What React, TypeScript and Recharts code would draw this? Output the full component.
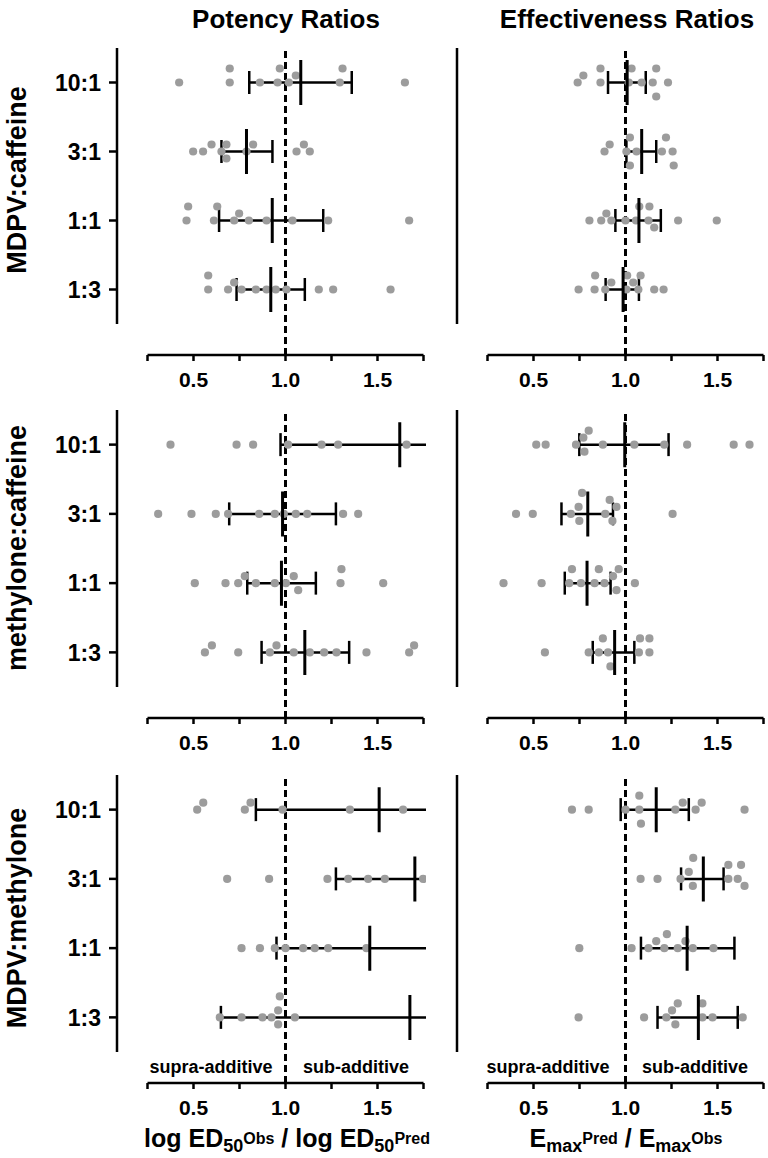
import React from 'react';
import { ScatterChart, Scatter, XAxis, YAxis, ErrorBar, ReferenceLine } from 'recharts';

const FONT = '"Liberation Sans", Arial, Helvetica, sans-serif';

// category order on the y axis, bottom to top
const RATIO_LABELS = ['1:3', '1:1', '3:1', '10:1'];
const ROW_LABELS = ['MDPV:caffeine', 'methylone:caffeine', 'MDPV:methylone'];
const COLUMN_TITLES = ['Potency Ratios', 'Effectiveness Ratios'];
const X_TICKS = [0.25, 0.5, 0.75, 1, 1.25, 1.5, 1.75];
const X_TICK_LABELS = [0.5, 1, 1.5];
const Y_TICKS = [1, 2, 3, 4];

// ---- MDPV:caffeine ----
const POT_MDPV_CAF: number[][] = [
  [0.58, 0.58, 0.688, 0.761, 0.721, 0.839, 0.897, 0.947, 1.005, 1.181, 1.259, 1.571],
  [0.471, 0.611, 0.748, 0.462, 0.629, 0.721, 0.801, 0.897, 1.038, 1.232, 1.672],
  [0.598, 0.552, 0.679, 0.788, 0.498, 0.652, 0.824, 0.679, 1.132, 1.06, 1.1],
  [0.422, 0.697, 0.697, 0.861, 0.957, 0.969, 1.018, 1.056, 1.295, 1.31, 1.649],
];
// [mean, lower CI, upper CI]
const POT_MDPV_CAF_CI: number[][] = [
  [0.92, 0.734, 1.105],
  [0.928, 0.639, 1.205],
  [0.788, 0.652, 0.929],
  [1.083, 0.803, 1.36],
];
const EFF_MDPV_CAF: number[][] = [
  [0.89, 1.005, 1.082, 1.207, 0.745, 0.832, 0.923, 1.042, 1.156, 0.835, 1.009, 1.07],
  [0.896, 1.057, 1.156, 0.868, 0.804, 0.923, 1.0, 1.125, 1.286, 1.496, 1.075, 1.13],
  [1.06, 1.198, 0.914, 1.024, 1.256, 0.886, 1.262, 1.024, 1.22, 1.005],
  [0.771, 0.864, 0.864, 0.74, 1.018, 1.088, 1.167, 1.167, 1.231, 1.148, 1.033],
];
const EFF_MDPV_CAF_CI: number[][] = [
  [0.987, 0.892, 1.073],
  [1.073, 0.945, 1.192],
  [1.088, 1.005, 1.167],
  [1.009, 0.905, 1.11],
];

// ---- methylone:caffeine ----
const POT_METH_CAF: number[][] = [
  [0.6, 0.562, 0.743, 0.915, 0.951, 1.045, 1.132, 1.21, 1.277, 1.44, 1.672, 1.699],
  [0.507, 0.674, 0.839, 0.942, 1.069, 1.299, 0.743, 0.779, 1.002, 1.045, 1.304, 1.531],
  [0.308, 0.489, 0.621, 0.688, 0.857, 0.942, 0.991, 1.056, 1.118, 1.313, 1.395],
  [0.375, 0.734, 0.824, 1.014, 1.196, 1.286, 1.658],
];
const POT_METH_CAF_CI: number[][] = [
  [1.105, 0.87, 1.346],
  [0.978, 0.792, 1.165],
  [0.984, 0.694, 1.274],
  [1.621, 0.973, 2.27],
];
const EFF_METH_CAF: number[][] = [
  [1.13, 1.13, 0.905, 0.8, 1.079, 0.562, 0.877, 1.073, 0.855, 0.918],
  [0.951, 0.709, 0.886, 0.337, 0.544, 0.694, 0.832, 0.932, 1.051, 0.758, 0.855, 0.963],
  [0.749, 0.929, 0.703, 0.89, 0.405, 0.496, 0.914, 0.745, 0.764, 0.951, 1.256],
  [0.771, 0.566, 0.731, 0.515, 0.777, 0.8, 0.877, 1.048, 1.211, 1.335, 1.588, 1.674],
];
const EFF_METH_CAF_CI: number[][] = [
  [0.941, 0.822, 1.048],
  [0.791, 0.67, 0.919],
  [0.795, 0.652, 0.932],
  [0.996, 0.749, 1.234],
];

// ---- MDPV:methylone ----
const POT_MDPV_METH: number[][] = [
  [0.969, 0.924, 0.643, 0.761, 0.96, 1.051, 0.875, 0.96],
  [0.761, 0.861, 0.942, 1.0, 1.096, 1.159, 1.232, 1.44],
  [0.683, 0.911, 1.228, 1.341, 1.449, 1.54, 1.748],
  [0.553, 0.52, 0.779, 0.81, 0.984, 1.35, 1.639],
];
const POT_MDPV_METH_CI: number[][] = [
  [1.676, 0.649, 2.7],
  [1.458, 0.951, 1.965],
  [1.703, 1.274, 2.13],
  [1.509, 0.839, 2.18],
];
const EFF_MDPV_METH: number[][] = [
  [1.284, 1.473, 1.253, 0.745, 1.101, 1.418, 1.418, 1.637, 1.222, 1.271],
  [1.284, 1.167, 1.366, 0.749, 1.033, 1.211, 1.478, 1.125, 1.326, 1.225],
  [1.368, 1.628, 1.344, 1.559, 1.559, 1.082, 1.174, 1.647, 1.299, 1.366, 1.61],
  [1.075, 1.075, 1.381, 1.311, 0.709, 0.8, 1.0, 1.084, 1.647, 1.271, 1.414],
];
const EFF_MDPV_METH_CI: number[][] = [
  [1.396, 1.174, 1.61],
  [1.335, 1.084, 1.592],
  [1.423, 1.302, 1.533],
  [1.167, 0.974, 1.344],
];

const PANELS = [
  [[POT_MDPV_CAF, POT_MDPV_CAF_CI], [EFF_MDPV_CAF, EFF_MDPV_CAF_CI]],
  [[POT_METH_CAF, POT_METH_CAF_CI], [EFF_METH_CAF, EFF_METH_CAF_CI]],
  [[POT_MDPV_METH, POT_MDPV_METH_CI], [EFF_MDPV_METH, EFF_MDPV_METH_CI]],
];

// ---- layout ----
const PLOT_W = 306.5;
const MARGIN_R = 2;
const Y_AXIS_W = 117;
const CHART_W = Y_AXIS_W + PLOT_W + MARGIN_R;
const COLS = [
  { chartLeft: 0, showLabels: true },
  { chartLeft: 340, showLabels: false },
];
const ROWS = [
  { plotTop: 48, plotH: 307, labelY: 180 },
  { plotTop: 410, plotH: 308, labelY: 548 },
  { plotTop: 775, plotH: 308, labelY: 918 },
];
const GAP_X = 30.5;
const GAP_Y = 31;
const TOP_M = 10;
const X_AXIS_H = 45;
const DOT_R = 4.1;
const DOT_COLOR = '#9c9c9c';

// deterministic beeswarm placement around a category centre
function swarm(values: number[], pxX: number, pxY: number, center: number) {
  const sorted = [...values].sort((a, b) => a - b);
  const placed: { x: number; y: number }[] = [];
  const out: { x: number; y: number }[] = [];
  const STEP = 7;
  const D = 8.5;
  const cands = [0, -STEP, STEP, -2 * STEP, 2 * STEP, -3 * STEP, 3 * STEP, -4 * STEP, 4 * STEP];
  for (const v of sorted) {
    const px = v * pxX;
    let chosen = 0;
    for (const c of cands) {
      if (placed.every((p) => Math.hypot(p.x - px, p.y - c) >= D)) {
        chosen = c;
        break;
      }
    }
    placed.push({ x: px, y: chosen });
    out.push({ x: v, y: center - chosen / pxY });
  }
  return out;
}

const Dot = (props: any) => {
  const { cx, cy } = props;
  if (cx == null || cy == null) return <g />;
  return <circle cx={cx} cy={cy} r={DOT_R} fill={DOT_COLOR} />;
};

const MeanMark = (props: any) => {
  const { cx, cy } = props;
  if (cx == null || cy == null) return <g />;
  return <line x1={cx} x2={cx} y1={cy - 22.5} y2={cy + 22.5} stroke="#000" strokeWidth={3} />;
};

const fmtX = (v: number) => (X_TICK_LABELS.includes(v) ? v.toFixed(1) : '');
const fmtY = (v: number) => RATIO_LABELS[v - 1] ?? '';

function Panel({ row, col, pts, ci }: { row: number; col: number; pts: number[][]; ci: number[][] }) {
  const R = ROWS[row];
  const C = COLS[col];
  const pxX = (PLOT_W - GAP_X) / 1.5;
  const xMin = 0.25 - GAP_X / pxX;
  const pxY = (R.plotH - GAP_Y) / 4;
  const yMin = 0.5 - GAP_Y / pxY;
  const dots = pts.flatMap((vals, i) => swarm(vals, pxX, pxY, i + 1));
  const means = ci.map(([m, lo, hi], i) => ({ x: m, y: i + 1, err: [m - lo, hi - m] }));
  const tickStyle = { fontSize: 21, fontWeight: 700, fill: '#000', fontFamily: FONT };
  const yTickStyle = { fontSize: 23, fontWeight: 700, fill: '#000', fontFamily: FONT };
  return (
    <div style={{ position: 'absolute', left: C.chartLeft, top: R.plotTop - TOP_M }}>
      <ScatterChart
        width={CHART_W}
        height={TOP_M + R.plotH + X_AXIS_H}
        margin={{ top: TOP_M, right: MARGIN_R, bottom: 0, left: 0 }}
      >
        <XAxis
          xAxisId="m"
          type="number"
          dataKey="x"
          domain={[xMin, 1.75]}
          allowDataOverflow
          hide
          orientation="top"
          height={0}
        />
        <XAxis
          xAxisId="p"
          type="number"
          dataKey="x"
          domain={[xMin, 1.75]}
          ticks={X_TICKS}
          interval={0}
          axisLine={false}
          tickLine={{ stroke: '#000', strokeWidth: 2.5 }}
          tickSize={6}
          tickMargin={11}
          height={X_AXIS_H}
          tick={tickStyle}
          tickFormatter={fmtX}
        />
        <YAxis
          type="number"
          dataKey="y"
          domain={[yMin, 4.5]}
          ticks={Y_TICKS}
          interval={0}
          width={Y_AXIS_W}
          axisLine={false}
          tickLine={{ stroke: '#000', strokeWidth: 2.5 }}
          tickSize={8}
          tickMargin={8}
          tick={C.showLabels ? yTickStyle : false}
          tickFormatter={fmtY}
        />
        <ReferenceLine
          xAxisId="p"
          segment={[{ x: xMin, y: 0.5 }, { x: xMin, y: 4.5 }]}
          stroke="#000"
          strokeWidth={2.5}
          ifOverflow="visible"
        />
        <ReferenceLine
          xAxisId="p"
          segment={[{ x: 0.25, y: yMin }, { x: 1.75, y: yMin }]}
          stroke="#000"
          strokeWidth={2.5}
          ifOverflow="visible"
        />
        <Scatter xAxisId="p" data={dots} shape={Dot} isAnimationActive={false} />
        <ReferenceLine xAxisId="p" x={1} stroke="#000" strokeWidth={3} strokeDasharray="7 4" />
        <Scatter xAxisId="m" data={means} shape={MeanMark} isAnimationActive={false}>
          <ErrorBar
            dataKey="err"
            direction="x"
            width={11.5}
            stroke="#000"
            strokeWidth={2.5}
            isAnimationActive={false}
          />
        </Scatter>
      </ScatterChart>
    </div>
  );
}

const textBase: React.CSSProperties = {
  position: 'absolute',
  fontFamily: FONT,
  fontWeight: 700,
  color: '#000',
  textAlign: 'center',
  whiteSpace: 'nowrap',
};

function Centered({ cx, cy, size, children, w = 400 }: { cx: number; cy: number; size: number; children: React.ReactNode; w?: number }) {
  return (
    <div style={{ ...textBase, left: cx - w / 2, top: cy - 20, width: w, height: 40, lineHeight: '40px', fontSize: size }}>
      {children}
    </div>
  );
}

const subStyle: React.CSSProperties = { fontSize: 18, verticalAlign: '-5px', lineHeight: 0 };
const supStyle: React.CSSProperties = { fontSize: 16, verticalAlign: '3px', lineHeight: 0 };

export default function App() {
  return (
    <div style={{ position: 'absolute', left: 0, top: 0, width: 768, height: 1158, background: '#fff', overflow: 'hidden' }}>
      {PANELS.map((rowPanels, r) =>
        rowPanels.map(([pts, ci], c) => <Panel key={`${r}-${c}`} row={r} col={c} pts={pts} ci={ci} />)
      )}
      <Centered cx={286} cy={19} size={26}>{COLUMN_TITLES[0]}</Centered>
      <Centered cx={627} cy={19} size={26}>{COLUMN_TITLES[1]}</Centered>
      {ROW_LABELS.map((lab, i) => (
        <div
          key={lab}
          style={{
            ...textBase,
            left: 17 - 150,
            top: ROWS[i].labelY - 20,
            width: 300,
            height: 40,
            lineHeight: '40px',
            fontSize: 27,
            transform: 'rotate(-90deg)',
          }}
        >
          {lab}
        </div>
      ))}
      <Centered cx={211} cy={1067} size={18}>supra-additive</Centered>
      <Centered cx={356} cy={1067} size={18}>sub-additive</Centered>
      <Centered cx={548} cy={1067} size={18}>supra-additive</Centered>
      <Centered cx={695} cy={1067} size={18}>sub-additive</Centered>
      <Centered cx={287} cy={1138} size={25}>
        log ED<span style={subStyle}>50</span>
        <span style={supStyle}>Obs</span> / log ED<span style={subStyle}>50</span>
        <span style={supStyle}>Pred</span>
      </Centered>
      <Centered cx={626} cy={1138} size={25}>
        E<span style={subStyle}>max</span>
        <span style={supStyle}>Pred</span> / E<span style={subStyle}>max</span>
        <span style={supStyle}>Obs</span>
      </Centered>
    </div>
  );
}
